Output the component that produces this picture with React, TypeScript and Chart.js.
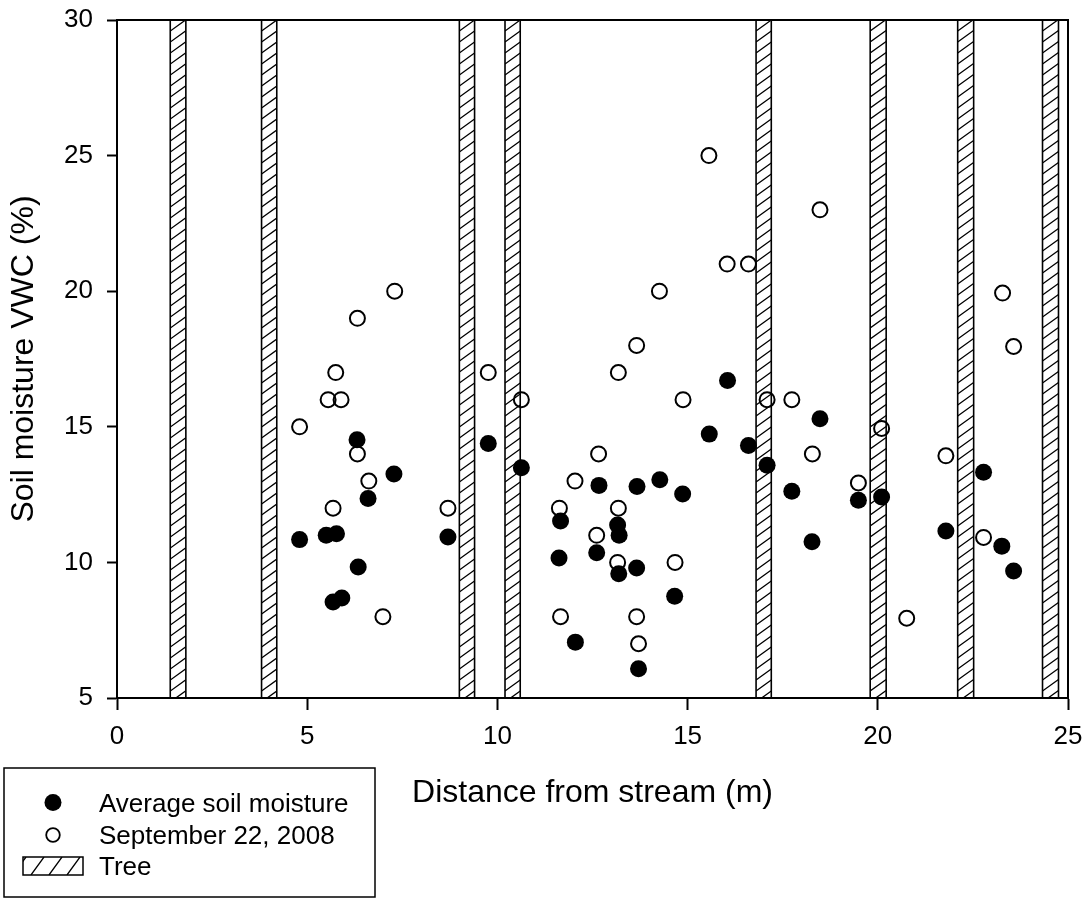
import React, { useEffect, useRef } from "react";
import { Chart, registerables } from "chart.js";

Chart.register(...registerables);

// Average soil moisture (filled circles)
const avgX = [4.80, 5.50, 5.77, 5.68, 5.91, 6.31, 6.60, 6.34, 7.28, 8.70, 9.76, 10.63, 11.66, 11.62, 12.05, 12.67, 12.61, 13.16, 13.20, 13.19, 13.66, 13.67, 13.71, 14.27, 14.66, 14.87, 15.57, 16.05, 16.60, 17.09, 17.74, 18.48, 18.27, 19.49, 20.10, 21.79, 22.78, 23.26, 23.57];
const avgY = [10.84, 11.00, 11.06, 8.54, 8.69, 14.52, 12.36, 9.83, 13.26, 10.94, 14.38, 13.49, 11.53, 10.16, 7.06, 12.84, 10.36, 11.38, 11.00, 9.58, 9.79, 12.80, 6.08, 13.05, 8.75, 12.52, 14.73, 16.71, 14.31, 13.58, 12.62, 15.30, 10.76, 12.29, 12.41, 11.16, 13.32, 10.60, 9.68];

// September 22, 2008 (open circles)
const sepX = [4.80, 5.55, 5.89, 5.75, 6.32, 6.32, 6.62, 5.68, 6.99, 7.30, 8.70, 9.76, 10.63, 11.63, 11.66, 12.04, 12.66, 12.61, 13.18, 13.18, 13.16, 13.66, 13.66, 13.71, 14.26, 14.67, 14.88, 15.56, 16.04, 16.60, 17.09, 17.74, 18.48, 18.28, 19.49, 20.10, 20.76, 21.79, 22.78, 23.28, 23.57];
const sepY = [15, 16, 16, 17, 19, 14, 13, 12, 8, 20, 12, 17, 16, 12, 8, 13, 14, 11, 17, 12, 10, 18, 8, 7, 20, 10, 16, 25, 21, 21, 16, 16, 23, 14, 12.93, 14.94, 7.94, 13.93, 10.92, 19.93, 17.96];

// Tree positions (distance from stream, m)
const treeStart = [1.4, 3.8, 9.0, 10.2, 16.8, 19.8, 22.1, 24.33];
const treeEnd = [1.81, 4.2, 9.4, 10.6, 17.2, 20.22, 22.52, 24.75];

const seriesLabels = ["Average soil moisture", "September 22, 2008"];
const treeLabel = "Tree";
const xTitle = "Distance from stream (m)";
const yTitle = "Soil moisture VWC (%)";

const FONT = "'Liberation Sans', Arial, Helvetica, sans-serif";

function drawHatch(ctx: CanvasRenderingContext2D, x0: number, y0: number, x1: number, y1: number, spacing: number, slope: number) {
  const w = x1 - x0;
  ctx.save();
  ctx.beginPath();
  ctx.rect(x0, y0, w, y1 - y0);
  ctx.clip();
  ctx.beginPath();
  const rise = w * slope;
  for (let y = y0; y <= y1 + rise + spacing; y += spacing) {
    ctx.moveTo(x0, y);
    ctx.lineTo(x1, y - rise);
  }
  ctx.lineWidth = 1.3;
  ctx.strokeStyle = "#000";
  ctx.stroke();
  ctx.restore();
}

const treePlugin = {
  id: "trees",
  beforeDatasetsDraw(chart: any) {
    const { ctx, chartArea, scales } = chart;
    const xs = scales.x;
    for (let i = 0; i < treeStart.length; i++) {
      const a = xs.getPixelForValue(treeStart[i]);
      const b = xs.getPixelForValue(treeEnd[i]);
      drawHatch(ctx, a, chartArea.top, b, chartArea.bottom, 11, 0.72);
      ctx.save();
      ctx.lineWidth = 1.6;
      ctx.strokeStyle = "#000";
      ctx.strokeRect(a, chartArea.top, b - a, chartArea.bottom - chartArea.top);
      ctx.restore();
    }
  },
  afterDraw(chart: any) {
    const { ctx, chartArea } = chart;
    ctx.save();
    ctx.strokeStyle = "#000";
    ctx.lineWidth = 2;
    ctx.beginPath();
    ctx.moveTo(chartArea.left, chartArea.top);
    ctx.lineTo(chartArea.right, chartArea.top);
    ctx.lineTo(chartArea.right, chartArea.bottom);
    ctx.stroke();

    // legend box
    ctx.lineWidth = 1.5;
    ctx.strokeRect(4, 768, 371, 129);
    ctx.font = `26px ${FONT}`;
    ctx.fillStyle = "#000";
    ctx.textBaseline = "alphabetic";
    ctx.textAlign = "left";
    // filled circle
    ctx.beginPath();
    ctx.arc(53, 802.5, 8.5, 0, Math.PI * 2);
    ctx.fill();
    ctx.fillText(chart.data.datasets[0].label, 99, 811.5);
    // open circle
    ctx.beginPath();
    ctx.arc(53, 835, 6.8, 0, Math.PI * 2);
    ctx.lineWidth = 1.8;
    ctx.stroke();
    ctx.fillText(chart.data.datasets[1].label, 99, 843.5);
    // tree swatch
    ctx.save();
    ctx.lineWidth = 1.3;
    ctx.beginPath();
    ctx.rect(23, 857, 60, 18);
    ctx.clip();
    ctx.beginPath();
    for (let x = 13; x < 100; x += 18) {
      ctx.moveTo(x, 875);
      ctx.lineTo(x + 13, 857);
    }
    ctx.stroke();
    ctx.restore();
    ctx.lineWidth = 1.5;
    ctx.strokeRect(23, 857, 60, 18);
    ctx.fillText(treeLabel, 99, 875);
    ctx.restore();
  },
};

export default function App() {
  const ref = useRef<HTMLCanvasElement | null>(null);
  useEffect(() => {
    if (!ref.current) return;
    Chart.defaults.font.family = FONT;
    const chart = new Chart(ref.current, {
      type: "scatter",
      data: {
        datasets: [
          {
            label: seriesLabels[0],
            data: avgX.map((x, i) => ({ x, y: avgY[i] })),
            pointRadius: 8.5,
            pointBackgroundColor: "#000",
            pointBorderColor: "#000",
            pointBorderWidth: 0,
            order: 2,
          },
          {
            label: seriesLabels[1],
            data: sepX.map((x, i) => ({ x, y: sepY[i] })),
            pointRadius: 7.5,
            pointBackgroundColor: "rgba(0,0,0,0)",
            pointBorderColor: "#000",
            pointBorderWidth: 2,
            order: 1,
          },
        ],
      },
      options: {
        animation: false,
        responsive: false,
        events: [],
        layout: { padding: { top: 20, right: 20, left: 0, bottom: 0 } },
        plugins: { legend: { display: false }, tooltip: { enabled: false } },
        scales: {
          x: {
            type: "linear",
            min: 0,
            max: 25,
            ticks: { stepSize: 5, color: "#000", font: { size: 26 }, padding: 11 },
            grid: { drawOnChartArea: false, drawTicks: true, tickLength: 12, tickColor: "#000", tickWidth: 2 },
            border: { display: true, color: "#000", width: 2 },
            title: { display: true, text: xTitle, color: "#000", font: { size: 32 }, padding: { top: 0, bottom: 87 } },
            afterFit: (s: any) => { s.height = 201; s.paddingLeft = 0; s.paddingRight = 0; },
          },
          y: {
            type: "linear",
            min: 5,
            max: 30,
            ticks: { stepSize: 5, color: "#000", font: { size: 26 }, padding: 14 },
            grid: { drawOnChartArea: false, drawTicks: true, tickLength: 10, tickColor: "#000", tickWidth: 2 },
            border: { display: true, color: "#000", width: 2 },
            title: { display: true, text: yTitle, color: "#000", font: { size: 32 }, padding: { top: 5, bottom: 0 } },
            afterFit: (s: any) => { s.width = 117; s.paddingTop = 0; s.paddingBottom = 0; },
          },
        },
      },
      plugins: [treePlugin],
    } as any);
    return () => chart.destroy();
  }, []);
  return (
    <div style={{ position: "fixed", left: 0, top: 0, width: 1088, height: 899, background: "#fff" }}>
      <canvas ref={ref} width={1088} height={899} style={{ display: "block", width: 1088, height: 899 }} />
    </div>
  );
}
